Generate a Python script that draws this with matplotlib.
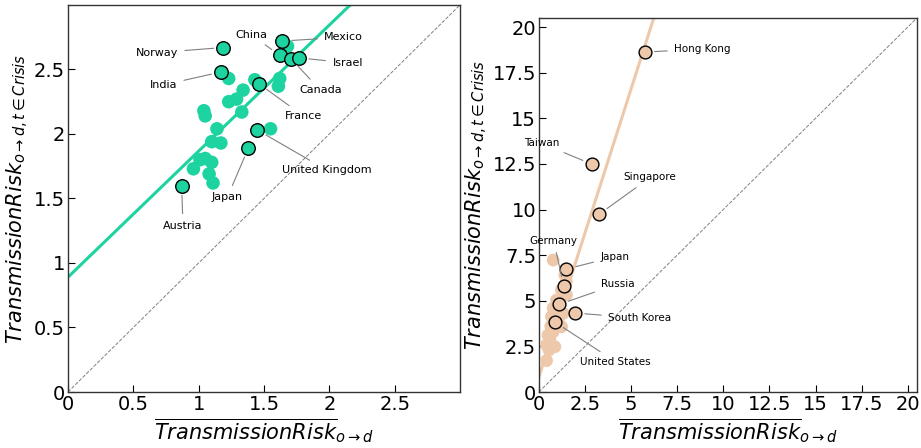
import numpy as np
import matplotlib
matplotlib.use("Agg")
import matplotlib.pyplot as plt

# ---------------- Data: left panel ----------------
left_labeled_names = ["Norway", "Mexico", "China", "Canada", "Israel", "India",
                      "France", "United Kingdom", "Japan", "Austria"]
left_labeled_x = [1.19, 1.64, 1.62, 1.71, 1.77, 1.17, 1.46, 1.45, 1.38, 0.87]
left_labeled_y = [2.67, 2.72, 2.61, 2.58, 2.59, 2.48, 2.39, 2.03, 1.89, 1.60]
left_text_x = [0.68, 2.11, 1.40, 1.93, 2.14, 0.73, 1.80, 1.98, 1.22, 0.88]
left_text_y = [2.63, 2.75, 2.77, 2.34, 2.55, 2.38, 2.14, 1.72, 1.51, 1.29]

left_other_x = [1.68, 1.23, 1.43, 1.62, 1.61, 1.34, 1.29, 1.23, 1.33, 1.04,
                1.05, 1.14, 1.55, 1.10, 1.17, 1.05, 1.01, 1.10, 0.96, 1.08, 1.11]
left_other_y = [2.68, 2.43, 2.42, 2.43, 2.37, 2.34, 2.27, 2.25, 2.17, 2.18,
                2.14, 2.04, 2.04, 1.94, 1.93, 1.81, 1.80, 1.78, 1.73, 1.69, 1.62]
left_fit = (0.977, 0.89)  # slope, intercept

# ---------------- Data: right panel ----------------
right_labeled_names = ["Hong Kong", "Taiwan", "Singapore", "Germany", "Japan",
                       "Russia", "South Korea", "United States"]
right_labeled_x = [5.75, 2.87, 3.27, 1.36, 1.50, 1.10, 1.97, 0.89]
right_labeled_y = [18.63, 12.49, 9.74, 5.81, 6.74, 4.80, 4.33, 3.82]
right_text_x = [8.87, 0.14, 6.04, 0.80, 4.12, 4.30, 5.47, 4.16]
right_text_y = [18.79, 13.63, 11.76, 8.29, 7.41, 5.92, 4.04, 1.66]

right_other_x = [0.78, 1.41, 1.50, 1.23, 1.50, 0.96, 0.78, 1.32, 0.69, 1.23,
                 0.78, 0.50, 0.60, 0.42, 0.87, 0.42, 1.05, 0.65, 0.55]
right_other_y = [7.23, 6.41, 6.05, 5.59, 5.32, 5.04, 4.59, 4.31, 4.13, 3.58,
                 3.30, 3.12, 2.85, 2.58, 2.48, 1.72, 4.00, 3.60, 2.30]
right_fit = (3.16, 0.8)

left_ticks = [0, 0.5, 1, 1.5, 2, 2.5]
left_ticklabels = ["0", "0.5", "1", "1.5", "2", "2.5"]
right_ticks = [0, 2.5, 5, 7.5, 10, 12.5, 15, 17.5, 20]
right_ticklabels = ["0", "2.5", "5", "7.5", "10", "12.5", "15", "17.5", "20"]

TEAL = "#1dd3a0"
TAN = "#eec8aa"

fig = plt.figure(figsize=(9.21, 4.48), dpi=100)
axL = fig.add_axes([0.0738, 0.125, 0.4257, 0.864])
axR = fig.add_axes([0.585, 0.125, 0.4107, 0.835])

xlabel = r"$\overline{TransmissionRisk}_{o\rightarrow d}$"
ylabel = r"$TransmissionRisk_{o\rightarrow d,t\in Crisis}$"


def setup(ax, lim, ticks, ticklabels, fit, color):
    ax.set_xlim(0, lim)
    ax.set_ylim(0, lim)
    xs = np.array([0, lim])
    ax.plot(xs, xs, ls="--", color="gray", lw=0.7, zorder=1)
    ax.plot(xs, fit[0] * xs + fit[1], color=color, lw=2.2, zorder=2)
    ax.set_xticks(ticks)
    ax.set_xticklabels(ticklabels)
    ax.set_yticks(ticks)
    ax.set_yticklabels(ticklabels)
    ax.tick_params(direction="in", labelsize=14, length=5, pad=2)
    ax.set_xlabel(xlabel, fontsize=15, labelpad=2)
    ax.set_ylabel(ylabel, fontsize=15, labelpad=2)
    for s in ax.spines.values():
        s.set_color("#333333")
        s.set_linewidth(1.0)


setup(axL, 3.0, left_ticks, left_ticklabels, left_fit, TEAL)
setup(axR, 20.5, right_ticks, right_ticklabels, right_fit, TAN)

axL.scatter(left_other_x, left_other_y, s=95, color=TEAL, edgecolors="none", zorder=3)
axL.scatter(left_labeled_x, left_labeled_y, s=95, color=TEAL, edgecolors="black",
            linewidths=1.0, zorder=4)
for n, x, y, tx, ty in zip(left_labeled_names, left_labeled_x, left_labeled_y,
                           left_text_x, left_text_y):
    axL.annotate(n, xy=(x, y), xytext=(tx, ty), fontsize=8, ha="center", va="center",
                 arrowprops=dict(arrowstyle="-", color="gray", lw=0.8,
                                 shrinkA=3, shrinkB=7), zorder=5)

axR.scatter(right_other_x, right_other_y, s=85, color=TAN, edgecolors="none", zorder=3)
axR.scatter(right_labeled_x, right_labeled_y, s=85, color=TAN, edgecolors="black",
            linewidths=1.0, zorder=4)
for n, x, y, tx, ty in zip(right_labeled_names, right_labeled_x, right_labeled_y,
                           right_text_x, right_text_y):
    axR.annotate(n, xy=(x, y), xytext=(tx, ty), fontsize=7.5, ha="center", va="center",
                 arrowprops=dict(arrowstyle="-", color="gray", lw=0.8,
                                 shrinkA=3, shrinkB=7), zorder=5)

fig.savefig("out.png", dpi=100)
